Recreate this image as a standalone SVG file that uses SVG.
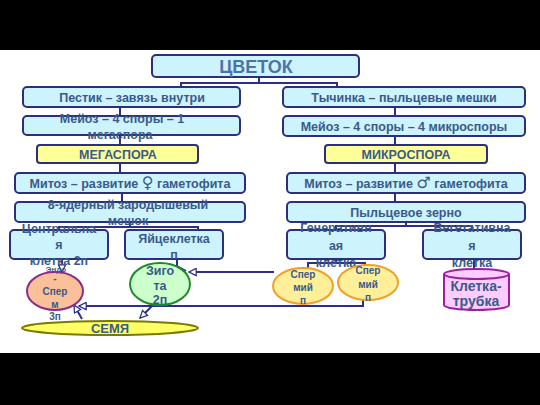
<svg xmlns="http://www.w3.org/2000/svg" width="540" height="405" viewBox="0 0 540 405">
<defs>
<style>
.box{fill:#cdf3fc;stroke:#2b2f7e;stroke-width:2}
.yel{fill:#ffff99;stroke:#2b2f7e;stroke-width:2}
.t{font-family:"Liberation Sans",Arial,sans-serif;font-weight:bold;font-size:12.5px;fill:#3a5a8a;text-anchor:middle}
.s{font-size:10px}
.sym{font-family:"DejaVu Sans",sans-serif;font-weight:normal;font-size:16px}
.c{fill:none;stroke:#2b2f86;stroke-width:2}
</style>
<marker id="ar" viewBox="0 0 10 10" refX="9" refY="5" markerWidth="9" markerHeight="9" orient="auto-start-reverse" markerUnits="userSpaceOnUse">
<path d="M1,1 L9,5 L1,9 Z" fill="#fff" stroke="#2b2f86" stroke-width="1.4"/>
</marker>
</defs>
<rect x="0" y="0" width="540" height="405" fill="#fff"/>
<rect x="0" y="0" width="540" height="50" fill="#000"/>
<rect x="0" y="353" width="540" height="52" fill="#000"/>

<g id="connectors">
<path class="c" d="M259,77 V83 M181,87 V83 H337 V87"/>
<path class="c" d="M120,107 V116 M120,135 V145 M120,164 V173 M122,193 V202"/>
<path class="c" d="M395,107 V116 M395,136 V145 M395,164 V173 M395,193 V202"/>
<path class="c" d="M130,222 V227 M59,230 V227 H198 V230"/>
<path class="c" d="M406,222 V226 M336,230 V226 H472 V230"/>
<path class="c" d="M62,259 V272" marker-end="url(#ar)"/>
<path class="c" d="M177,259 V266 L186,271"/>
<path class="c" d="M274,272 H189" marker-end="url(#ar)"/>
<path class="c" d="M363,300 V306 H79" marker-end="url(#ar)"/>
<path class="c" d="M82,319 L74,305" marker-end="url(#ar)"/>
<path class="c" d="M155,303 L140,318" marker-end="url(#ar)"/>
<path class="c" d="M336,259 V263 H308 V268 M336,263 H365 V265"/>
<path class="c" d="M474,259 V269"/>
</g>

<g id="tsvetok">
<rect class="box" x="152" y="55" width="207" height="22" rx="4"/>
<text class="t" x="256" y="72.5" style="font-size:18px;fill:#4b73aa">ЦВЕТОК</text>
</g>
<g id="pestik">
<rect class="box" x="23" y="87" width="217" height="20" rx="4"/>
<text class="t" x="132" y="102">Пестик – завязь внутри</text>
</g>
<g id="tychinka">
<rect class="box" x="283" y="87" width="242" height="20" rx="4"/>
<text class="t" x="404" y="102">Тычинка – пыльцевые мешки</text>
</g>
<g id="meioz1">
<rect class="box" x="23" y="116" width="217" height="19" rx="4"/>
<text class="t" x="122" y="123">Мейоз – 4 споры – 1</text>
<text class="t" x="120" y="139">мегаспора</text>
</g>
<g id="meioz2">
<rect class="box" x="283" y="116" width="242" height="20" rx="4"/>
<text class="t" x="404" y="131">Мейоз – 4 споры – 4 микроспоры</text>
</g>
<g id="megaspora">
<rect class="yel" x="37" y="145" width="161" height="18" rx="3"/>
<text class="t" x="118" y="159">МЕГАСПОРА</text>
</g>
<g id="mikrospora">
<rect class="yel" x="325" y="145" width="162" height="18" rx="3"/>
<text class="t" x="406" y="159">МИКРОСПОРА</text>
</g>
<g id="mitoz1">
<rect class="box" x="15" y="173" width="230" height="20" rx="4"/>
<text class="t" x="130" y="188">Митоз – развитие <tspan class="sym">♀</tspan> гаметофита</text>
</g>
<g id="mitoz2">
<rect class="box" x="287" y="173" width="238" height="20" rx="4"/>
<text class="t" x="406" y="188">Митоз – развитие <tspan class="sym">♂</tspan> гаметофита</text>
</g>
<g id="meshok">
<rect class="box" x="15" y="202" width="230" height="20" rx="4"/>
<text class="t" x="128" y="209">8-ядерный зародышевый</text>
<text class="t" x="128" y="225">мешок</text>
</g>
<g id="zerno">
<rect class="box" x="287" y="202" width="238" height="20" rx="4"/>
<text class="t" x="406" y="217">Пыльцевое зерно</text>
</g>
<g id="centralnaya">
<rect class="box" x="10" y="230" width="98" height="29" rx="4"/>
<text class="t" x="59" y="233">Центральна</text>
<text class="t" x="59" y="249">я</text>
<text class="t" x="59" y="264.5">клетка 2п</text>
</g>
<g id="yaytsekletka">
<rect class="box" x="125" y="230" width="98" height="29" rx="4"/>
<text class="t" x="174" y="243">Яйцеклетка</text>
<text class="t" x="174" y="259">п</text>
</g>
<g id="generativnaya">
<rect class="box" x="287" y="230" width="98" height="29" rx="4"/>
<text class="t" x="336" y="232">Генеративн</text>
<text class="t" x="336" y="250">ая</text>
<text class="t" x="336" y="267">клетка</text>
</g>
<g id="vegetativnaya">
<rect class="box" x="423" y="230" width="98" height="29" rx="4"/>
<text class="t" x="472" y="232">Вегетативна</text>
<text class="t" x="472" y="250">я</text>
<text class="t" x="472" y="267">клетка</text>
</g>
<g id="endosperm">
<ellipse cx="55" cy="291" rx="28" ry="19" fill="#f9c09a" stroke="#8b2b8b" stroke-width="2"/>
<text class="t s" x="56" y="272" style="font-size:8px">Эндо</text>
<text class="t s" x="55" y="282">-</text>
<text class="t s" x="55" y="295">Спер</text>
<text class="t s" x="55" y="308">м</text>
<text class="t s" x="55" y="320">3п</text>
</g>
<g id="zigota">
<ellipse cx="160" cy="284" rx="30" ry="21" fill="#ccffcc" stroke="#1f8a2a" stroke-width="2"/>
<text class="t" x="160" y="275">Зиго</text>
<text class="t" x="160" y="290">та</text>
<text class="t" x="160" y="304">2п</text>
</g>
<g id="spermiy1">
<ellipse cx="303" cy="286" rx="30" ry="18" fill="#ffef99" stroke="#f0a028" stroke-width="2"/>
<text class="t s" x="303" y="278">Спер</text>
<text class="t s" x="303" y="291">мий</text>
<text class="t s" x="303" y="304">п</text>
</g>
<g id="spermiy2">
<ellipse cx="368" cy="282.5" rx="30" ry="17.5" fill="#ffef99" stroke="#f0a028" stroke-width="2"/>
<text class="t s" x="368" y="274">Спер</text>
<text class="t s" x="368" y="288">мий</text>
<text class="t s" x="368" y="301">п</text>
</g>
<g id="trubka">
<path d="M444,274 V305 A32.5,5 0 0 0 509,305 V274" fill="#ffccff" stroke="#9c1f9c" stroke-width="2"/>
<ellipse cx="476.5" cy="274" rx="32.5" ry="5" fill="#ffccff" stroke="#9c1f9c" stroke-width="2"/>
<text class="t" x="476" y="291" style="font-size:14px">Клетка-</text>
<text class="t" x="476" y="306" style="font-size:14px">трубка</text>
</g>
<g id="semya">
<ellipse cx="110" cy="328" rx="88" ry="7" fill="#ffff66" stroke="#7a7a00" stroke-width="2"/>
<text class="t" x="110" y="333" style="font-size:13px">СЕМЯ</text>
</g>
</svg>
